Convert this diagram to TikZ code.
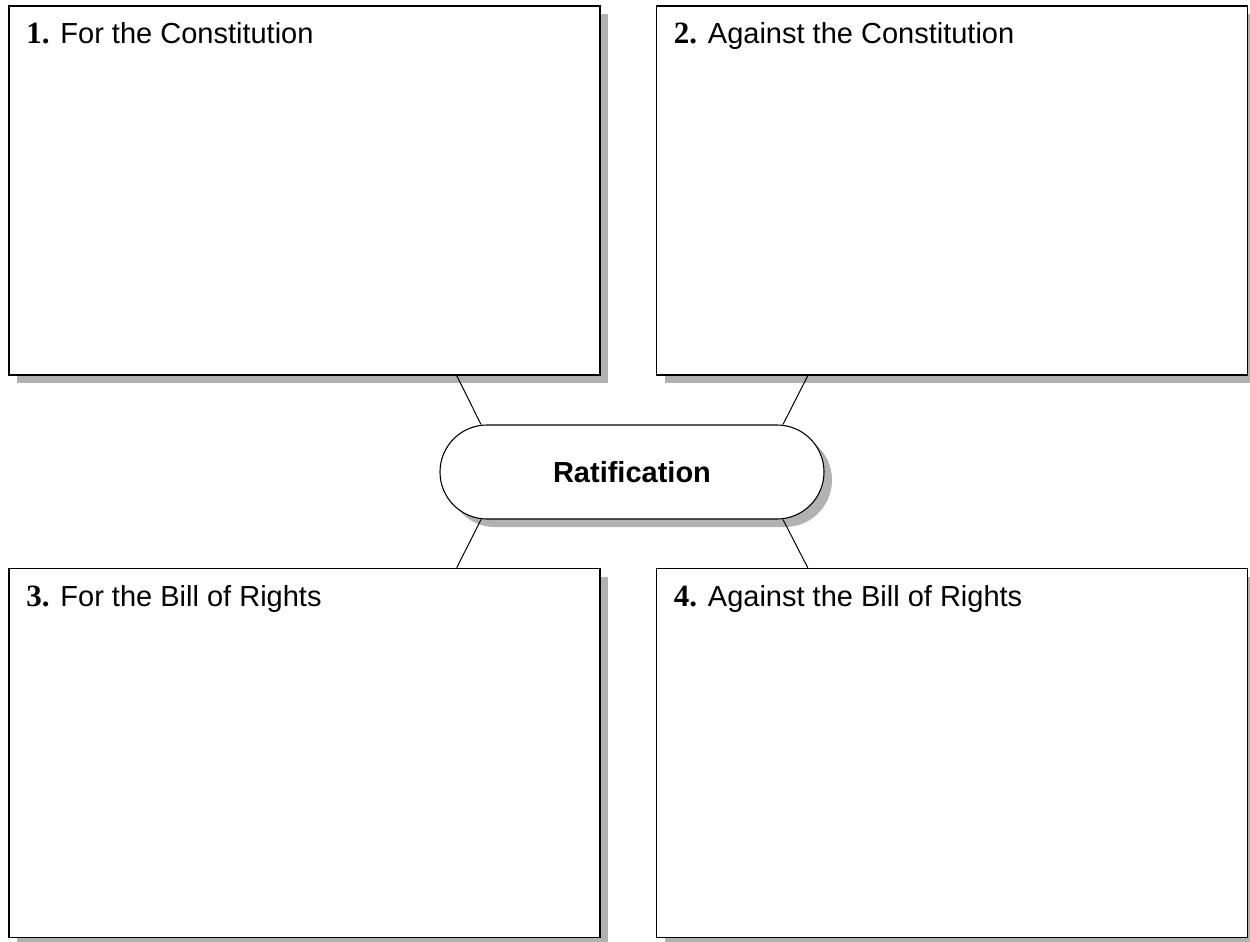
\documentclass[tikz,border=0pt]{standalone}
\usepackage{fontspec}
\setmainfont{Liberation Sans}
\newfontfamily\numfont{Liberation Serif}
\usetikzlibrary{shapes.misc,shadows}
\tikzset{
	boxshadow/.style={drop shadow={shadow xshift=8pt,shadow yshift=-8pt,fill=black!30,opacity=1}},
	panel/.style={draw,line width=1.5pt,fill=white,inner sep=0pt,minimum width=591pt,minimum height=369pt,boxshadow},
	hub/.style={rounded rectangle,draw,line width=1.1pt,fill=white,inner sep=0pt,minimum width=384pt,minimum height=94pt,
		font=\fontsize{29}{34}\selectfont\bfseries,boxshadow},
	title/.style={anchor=base west,inner sep=0pt},
	spoke/.style={line width=1pt}
}
\begin{document}
\begin{tikzpicture}[x=1pt,y=-1pt,font=\fontsize{29}{34}\selectfont]
	\useasboundingbox (0,0) rectangle (1250,942);
	% the four answer boxes
	\foreach \n/\x/\y/\txt in {1/304.5/190.5/For the Constitution,
		2/952/190.5/Against the Constitution,
		3/304.5/753/For the Bill of Rights,
		4/952/753/Against the Bill of Rights}
	{
		\node[panel] (p\n) at (\x,\y) {};
		\node[title] (t\n) at ([xshift=18pt,yshift=-38.5pt]p\n.north west)
			{{\numfont\bfseries\fontsize{31}{34}\selectfont\n.} \txt};
	}
	% centre
	\node[hub] (hub) at (632,472) {Ratification};
	\draw[spoke] ([xshift=-144pt]p1.south east) -- ([xshift=-151pt]hub.north);
	\draw[spoke] ([xshift=152pt]p2.south west) -- ([xshift=151pt]hub.north);
	\draw[spoke] ([xshift=-144pt]p3.north east) -- ([xshift=-151pt]hub.south);
	\draw[spoke] ([xshift=152pt]p4.north west) -- ([xshift=151pt]hub.south);
\end{tikzpicture}
\end{document}
